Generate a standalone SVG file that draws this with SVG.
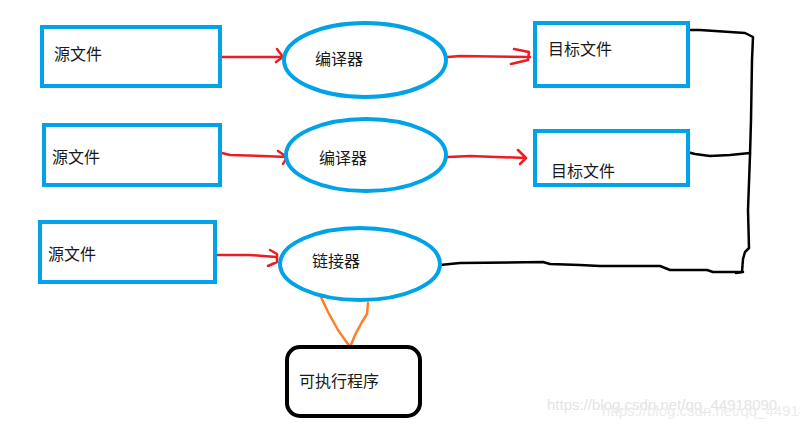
<svg xmlns="http://www.w3.org/2000/svg" width="800" height="424" viewBox="0 0 800 424">
<style>
.box{fill:#fff;stroke:#00a2e8;stroke-width:4}
.ell{fill:#fff;stroke:#00a2e8;stroke-width:4}
.exe{fill:#fff;stroke:#000;stroke-width:4}
.t{font-family:"Liberation Sans","Noto Sans CJK SC",sans-serif;font-size:16px;fill:#1a1a1a}
.red{fill:none;stroke:#ed1c24;stroke-width:2.5;stroke-linecap:round;stroke-linejoin:round}
.blk{fill:none;stroke:#000;stroke-width:2.5;stroke-linecap:round;stroke-linejoin:round}
.org{fill:none;stroke:#ff7f27;stroke-width:2.5;stroke-linecap:round;stroke-linejoin:round}
.wm{font-family:"Liberation Sans",Arial,sans-serif;font-size:15px;fill:#e4e4e4}
</style>
<rect width="800" height="424" fill="#fff"/>
<g id="connectors">
<path class="red" d="M219 57 L283 57 M277 49 L283 57 L276 62"/>
<path class="red" d="M448 57 L460 56 L530 57 M514 49 L529 52 L528 60 L511 64"/>
<path class="red" d="M222 153 L230 155 L262 156 L287 157 M278 151 L287 157 L283 164"/>
<path class="red" d="M448 157 L470 156 L526 158 M518 150 L526 158 L520 164"/>
<path class="red" d="M216 255 L250 255 L276 257 M270 250 L277 254 L277 262 L268 266"/>
<path class="blk" d="M686 30 L700 30 L745 33 L753 37 L752 60 L751 120 L750 155 L748 210 L749 248 L745 252 L743 259 L742 272 L736 273"/>
<path class="blk" d="M687 152 L695 154 L710 156 L730 155 L750 153"/>
<path class="blk" d="M440 265 L460 263 L543 262 L550 264 L580 265 L600 266 L660 266 L670 270 L707 270 L713 272 L743 272"/>
<path class="org" d="M320 295 L328 312 L338 330 L350 347 L356 333 L362 322 L367 314 L368 303"/>
</g>
<g id="src1"><rect class="box" x="42" y="27" width="178" height="59"/><text class="t" x="54" y="60">源文件</text></g>
<g id="src2"><rect class="box" x="44" y="125" width="176" height="60"/><text class="t" x="52" y="163">源文件</text></g>
<g id="src3"><rect class="box" x="40" y="222" width="175" height="60"/><text class="t" x="48" y="260">源文件</text></g>
<g id="comp1"><ellipse class="ell" cx="365" cy="60" rx="81" ry="37"/><text class="t" x="315" y="65">编译器</text></g>
<g id="comp2"><ellipse class="ell" cx="366" cy="155" rx="80" ry="36"/><text class="t" x="319" y="164">编译器</text></g>
<g id="linker"><ellipse class="ell" cx="360" cy="264" rx="80" ry="36"/><text class="t" x="312" y="267">链接器</text></g>
<g id="obj1"><rect class="box" x="535" y="23" width="153" height="63"/><text class="t" x="548" y="55">目标文件</text></g>
<g id="obj2"><rect class="box" x="535" y="131" width="153" height="54"/><text class="t" x="551" y="177">目标文件</text></g>
<g id="exe"><rect class="exe" x="287" y="347" width="133" height="69" rx="13"/><text class="t" x="299" y="387">可执行程序</text></g>
<text class="wm" x="547" y="410">https://blog.csdn.net/qq_44918090</text>
<text class="wm" x="602" y="416" style="fill:#ececec">https://blog.csdn.net/qq_44918090</text>
</svg>
